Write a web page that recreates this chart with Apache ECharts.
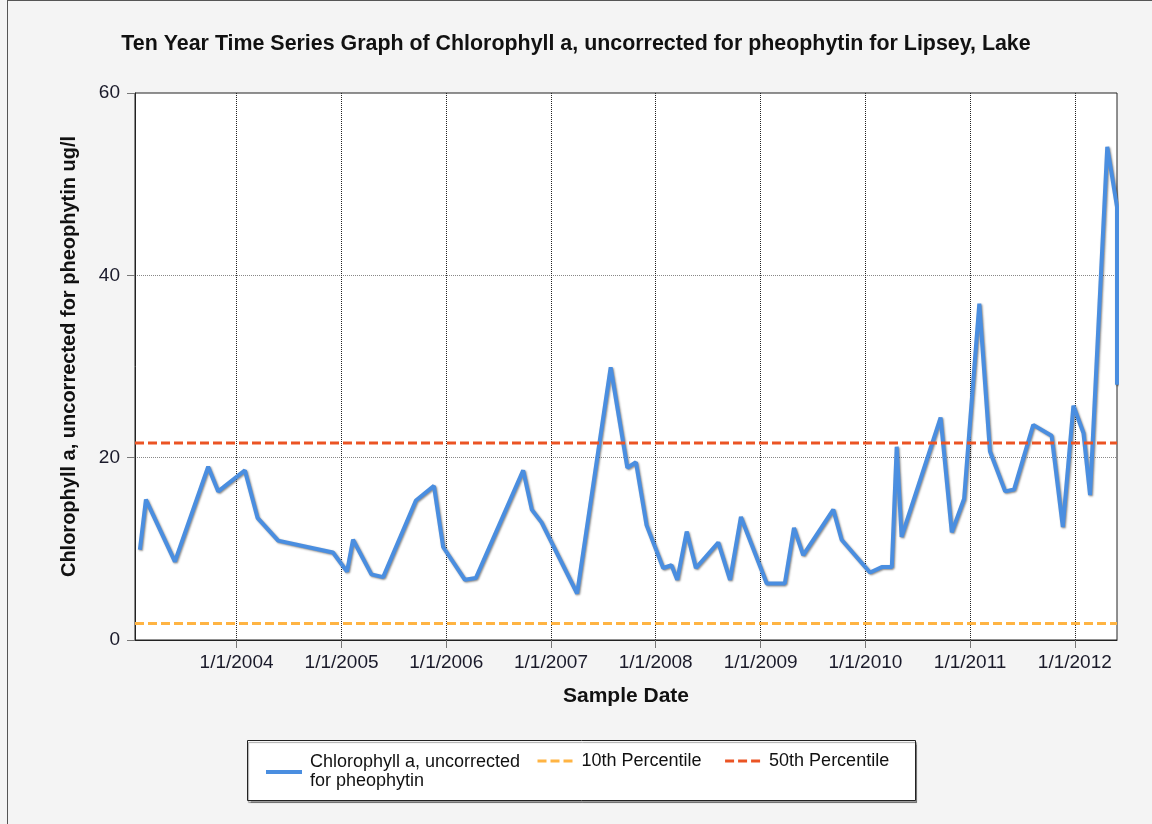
<!DOCTYPE html>
<html>
<head>
<meta charset="utf-8">
<style>
  html, body { margin: 0; padding: 0; background: #f4f4f4; }
  #frame { position: absolute; left: 7px; top: 0; width: 1145px; height: 824px; border-left: 1px solid #555; border-top: 1px solid #555; box-sizing: border-box; }
  #chart { position: absolute; left: 0; top: 0; width: 1152px; height: 824px; }
</style>
<script src="https://cdn.jsdelivr.net/npm/echarts@6/dist/echarts.min.js"></script>
</head>
<body>
<div id="frame"></div>
<div id="chart"></div>
<script>
// ---- data ----
const sampleDates = [
  '2003-01-29','2003-02-19','2003-05-31','2003-09-24','2003-10-29',
  '2004-01-30','2004-03-14','2004-05-25','2004-12-02',
  '2005-01-20','2005-02-10','2005-04-15','2005-05-26','2005-09-17','2005-11-19','2005-12-21',
  '2006-03-07','2006-04-14','2006-09-26','2006-10-26','2006-11-29',
  '2007-04-02','2007-07-28','2007-09-24','2007-10-24','2007-11-30',
  '2008-01-27','2008-02-25','2008-03-16','2008-04-18','2008-05-20','2008-08-06','2008-09-16','2008-10-24',
  '2009-01-22','2009-03-26','2009-04-27','2009-05-29','2009-09-11','2009-10-10',
  '2010-01-17','2010-02-27','2010-04-03','2010-04-20','2010-05-07','2010-09-20','2010-10-29','2010-12-11',
  '2011-02-02','2011-03-11','2011-05-03','2011-06-03','2011-08-09','2011-10-12','2011-11-20','2011-12-27',
  '2012-01-31','2012-02-23','2012-04-23','2012-05-27','2012-05-27'
];
const chlorophyll = [
  9.9, 15.4, 8.6, 19.0, 16.3,
  18.6, 13.4, 10.9, 9.6,
  7.5, 11.0, 7.2, 6.9, 15.3, 16.9, 10.2,
  6.6, 6.8, 18.6, 14.3, 12.9,
  5.1, 29.9, 18.9, 19.5, 12.6,
  7.9, 8.2, 6.6, 11.9, 7.9, 10.7, 6.6, 13.5,
  6.2, 6.2, 12.3, 9.3, 14.3, 11.0,
  7.4, 8.0, 8.0, 21.2, 11.3, 24.4, 11.8, 15.5,
  36.9, 20.7, 16.3, 16.5, 23.6, 22.4, 12.4, 25.7,
  22.7, 15.9, 54.1, 47.5, 28.0
];
const axisStart = '2003-01-12';
const axisEnd = '2012-05-27';
const percentile10 = 1.8;
const percentile50 = 21.6;
const yTicks = { min: 0, max: 60, interval: 20 };

const seriesNames = ['Chlorophyll a, uncorrected for pheophytin', '10th Percentile', '50th Percentile'];
const colors = ['#4a8ee0', '#ffb443', '#eb5424'];

const FONT = '"Liberation Sans", Arial, sans-serif';

const chart = echarts.init(document.getElementById('chart'), null, { renderer: 'canvas' });

const legendCommon = {
  padding: 0,
  itemHeight: 14,
  itemStyle: { opacity: 0, borderWidth: 0 },
  lineStyle: { width: 'inherit' },
  selectedMode: false
};

const option = {
  backgroundColor: 'transparent',
  animation: false,
  title: {
    text: 'Ten Year Time Series Graph of Chlorophyll a, uncorrected for pheophytin for Lipsey, Lake',
    left: 'center',
    top: 29,
    textStyle: { fontFamily: FONT, fontSize: 21.4, fontWeight: 'bold', color: '#111' }
  },
  grid: {
    left: 135, right: 35, top: 93, bottom: 184,
    show: true, backgroundColor: '#ffffff', borderColor: '#222', borderWidth: 1,
    containLabel: false
  },
  graphic: [{
    type: 'rect', left: 247, top: 740, z: -1,
    shape: { width: 668, height: 60 },
    style: { fill: '#ffffff', stroke: '#222', lineWidth: 1, shadowColor: 'rgba(0,0,0,0.35)', shadowOffsetX: 1, shadowOffsetY: 2, shadowBlur: 1 }
  }],
  legend: [Object.assign({}, legendCommon, {
    data: [seriesNames[0]],
    left: 264, top: 753,
    itemWidth: 36,
    formatter: () => 'Chlorophyll a, uncorrected\nfor pheophytin',
    textStyle: { fontFamily: FONT, fontSize: 18, color: '#111', lineHeight: 19, padding: [0, 0, 0, 3] }
  }), Object.assign({}, legendCommon, {
    data: [seriesNames[1], seriesNames[2]],
    left: 536, top: 752,
    itemWidth: 36, itemGap: 22,
    textStyle: { fontFamily: FONT, fontSize: 18, color: '#111', padding: [0, 0, 0, 3] }
  })],
  xAxis: {
    type: 'time',
    min: axisStart, max: axisEnd,
    name: 'Sample Date',
    nameLocation: 'middle',
    nameGap: 46,
    nameTextStyle: { fontFamily: FONT, fontSize: 21, fontWeight: 'bold', color: '#111' },
    minInterval: 365 * 24 * 3600 * 1000,
    maxInterval: 366 * 24 * 3600 * 1000,
    axisLine: { show: true, lineStyle: { color: '#222', width: 1 } },
    axisTick: { show: true, length: 8, lineStyle: { color: '#777' } },
    axisLabel: {
      margin: 13,
      fontFamily: FONT, fontSize: 19, color: '#1a1a2a',
      showMinLabel: false, showMaxLabel: false,
      formatter: (v) => { const d = new Date(v); return (d.getMonth() + 1) + '/' + d.getDate() + '/' + d.getFullYear(); }
    },
    splitLine: { show: true, showMinLine: false, showMaxLine: false, lineStyle: { color: '#222', type: [1, 1], width: 1 } }
  },
  yAxis: {
    type: 'value',
    min: yTicks.min, max: yTicks.max, interval: yTicks.interval,
    name: 'Chlorophyll a, uncorrected for pheophytin ug/l',
    nameLocation: 'middle',
    nameRotate: 90,
    nameGap: 56,
    nameTextStyle: { fontFamily: FONT, fontSize: 20, fontWeight: 'bold', color: '#111', padding: [0, 0, 0, 20] },
    axisLine: { show: true, lineStyle: { color: '#222', width: 1 } },
    axisTick: { show: true, length: 8, lineStyle: { color: '#777' } },
    axisLabel: { margin: 15, fontFamily: FONT, fontSize: 19, color: '#1a1a2a' },
    splitLine: { show: true, showMinLine: false, showMaxLine: false, lineStyle: { color: '#888', type: [1, 1], width: 1 } }
  },
  series: [{
    name: seriesNames[0],
    type: 'line',
    data: sampleDates.map((d, i) => [d, chlorophyll[i]]),
    showSymbol: false, symbol: 'none',
    color: colors[0],
    lineStyle: { width: 4, color: colors[0], shadowColor: 'rgba(0,0,0,0.45)', shadowBlur: 2, shadowOffsetX: 1, shadowOffsetY: 1 },
    z: 2
  }, {
    name: seriesNames[1],
    type: 'line',
    data: [[axisStart, percentile10], [axisEnd, percentile10]],
    showSymbol: false, symbol: 'none',
    color: colors[1],
    lineStyle: { width: 3, color: colors[1], type: [9, 4] },
    z: 3
  }, {
    name: seriesNames[2],
    type: 'line',
    data: [[axisStart, percentile50], [axisEnd, percentile50]],
    showSymbol: false, symbol: 'none',
    color: colors[2],
    lineStyle: { width: 3, color: colors[2], type: [9, 4] },
    z: 3
  }]
};
chart.setOption(option);
</script>
</body>
</html>
